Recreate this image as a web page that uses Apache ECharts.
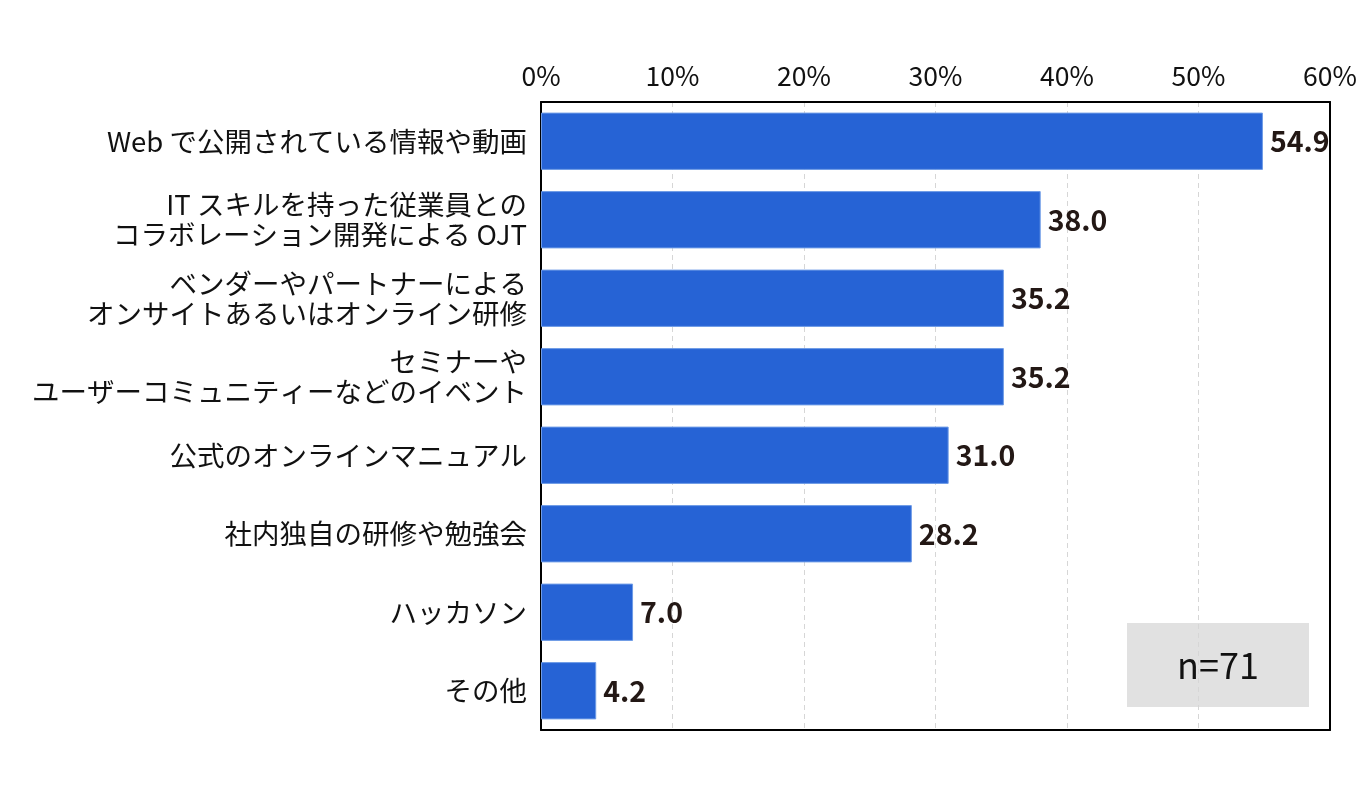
<!DOCTYPE html>
<html>
<head>
<meta charset="utf-8">
<script src="https://cdn.jsdelivr.net/npm/echarts@6/dist/echarts.min.js"></script>
<style>
  html, body { margin: 0; padding: 0; background: #fff; }
  #content { width: 1371px; height: 795px; }
</style>
</head>
<body>
<div id="content"></div>
<script>
// 項目（上から順）
var categories = [
    "Web で公開されている情報や動画",
    "IT スキルを持った従業員との\nコラボレーション開発による OJT",
    "ベンダーやパートナーによる\nオンサイトあるいはオンライン研修",
    "セミナーや\nユーザーコミュニティーなどのイベント",
    "公式のオンラインマニュアル",
    "社内独自の研修や勉強会",
    "ハッカソン",
    "その他"
];
// 割合（%）
var values = [54.9, 38.0, 35.2, 35.2, 31.0, 28.2, 7.0, 4.2];
var axisTicks = [0, 10, 20, 30, 40, 50, 60];
var sampleNote = "n=71";

var font = "Noto Sans CJK JP";
var myChart = echarts.init(document.getElementById("content"));

// 枠線用の軸（表示は線のみ）
var frameLine = { show: true, onZero: false, lineStyle: { color: "#000", width: 2 } };

myChart.setOption({
    backgroundColor: "#fff",
    animation: false,
    grid: {
        left: 541,
        right: 41,
        top: 102,
        bottom: 65
    },
    xAxis: [{
        type: "value",
        position: "top",
        min: axisTicks[0],
        max: axisTicks[axisTicks.length - 1],
        interval: 10,
        axisLine: frameLine,
        axisTick: { show: false },
        axisLabel: {
            formatter: "{value}%",
            fontFamily: font,
            fontSize: 26.5,
            color: "#111",
            margin: 13
        },
        splitLine: {
            show: true,
            showMinLine: false,
            showMaxLine: false,
            lineStyle: { color: "#d6d6d6", type: [5, 4], width: 1 }
        }
    }, {
        type: "value",
        position: "bottom",
        min: axisTicks[0],
        max: axisTicks[axisTicks.length - 1],
        interval: 10,
        axisLine: frameLine,
        axisTick: { show: false },
        axisLabel: { show: false },
        splitLine: { show: false }
    }],
    yAxis: [{
        type: "category",
        data: categories,
        inverse: true,
        axisLine: frameLine,
        axisTick: { show: false },
        axisLabel: {
            fontFamily: font,
            fontSize: 27.5,
            lineHeight: 30,
            color: "#111",
            align: "right",
            margin: 14
        }
    }, {
        type: "category",
        data: categories,
        inverse: true,
        position: "right",
        axisLine: frameLine,
        axisTick: { show: false },
        axisLabel: { show: false }
    }],
    series: [{
        type: "bar",
        data: values,
        barCategoryGap: "27%",
        itemStyle: {
            color: "#2663d5",
            borderColor: "#6e9be6",
            borderWidth: 1
        },
        label: {
            show: true,
            position: "right",
            distance: 7,
            formatter: function(p) { return p.value.toFixed(1); },
            fontFamily: font,
            fontWeight: "bold",
            fontSize: 28.5,
            color: "#231815"
        }
    }],
    graphic: [{
        type: "group",
        left: 1127,
        top: 623,
        children: [{
            type: "rect",
            shape: { x: 0, y: 0, width: 182, height: 84 },
            style: { fill: "#e1e1e1" }
        }, {
            type: "text",
            x: 91,
            y: 42,
            style: {
                text: sampleNote,
                fontFamily: font,
                fontSize: 36,
                fill: "#111",
                align: "center",
                verticalAlign: "middle"
            }
        }]
    }]
});
</script>
</body>
</html>
